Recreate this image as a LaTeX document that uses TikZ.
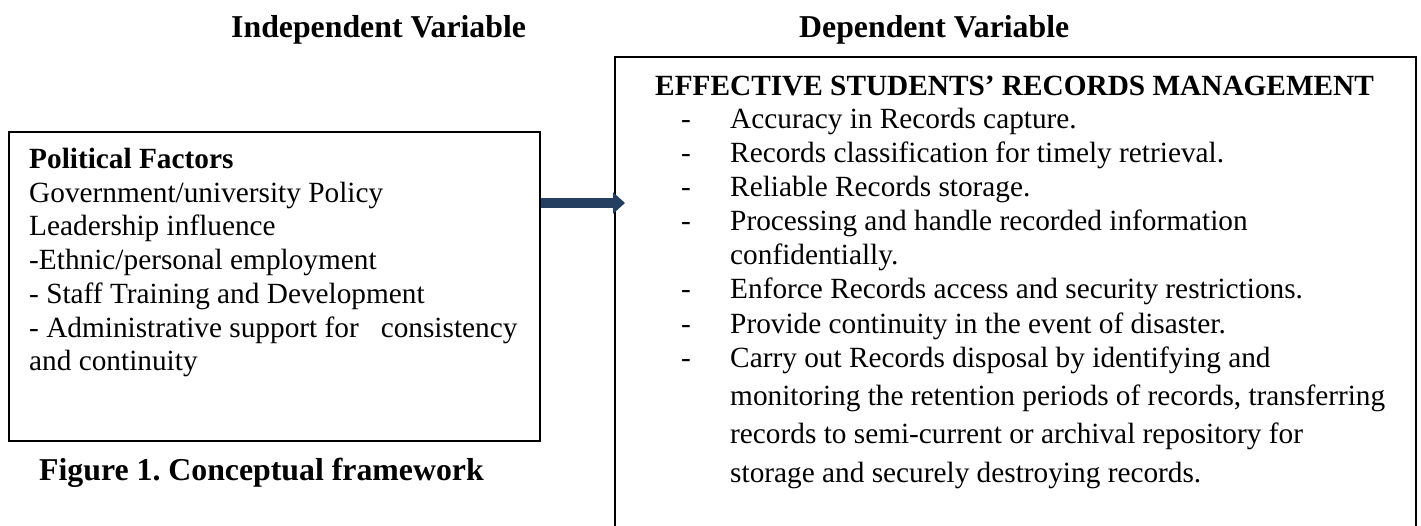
\documentclass[tikz,border=0pt]{standalone}
\usepackage{fontspec}
\setmainfont{Liberation Serif}
\usetikzlibrary{arrows.meta}
\definecolor{arrownavy}{RGB}{36,63,96}
\frenchspacing
\begin{document}
\begin{tikzpicture}[x=1pt,y=-1pt,
  txt/.style={inner sep=0pt, anchor=base west, font=\fontsize{29.3}{34}\selectfont},
  txtb/.style={inner sep=0pt, anchor=base west, font=\fontsize{29.3}{34}\selectfont\bfseries},
  ttl/.style={inner sep=0pt, anchor=base west, font=\fontsize{31.8}{38}\selectfont\bfseries},
  frame/.style={draw=black, line width=2pt, inner sep=0pt, anchor=north west},
  flow/.style={draw=arrownavy, line width=10pt, -{Triangle[length=12pt,width=21pt]}}]
\useasboundingbox (0,0) rectangle (1421,525);
\clip (0,0) rectangle (1421,525);
% titles
\node[ttl] (tind) at (231,37) {Independent Variable};
\node[ttl] (tdep) at (799,37) {Dependent Variable};
% frames
\node[frame, minimum width=531pt, minimum height=309pt] (lbox) at (8,131) {};
\node[frame, minimum width=801pt, minimum height=520pt] (rbox) at (614,56) {};
% left text
\node[txtb] (l1) at (29,168) {Political Factors};
\node[txt] (l2) at (29,202) {Government/university Policy};
\node[txt] (l3) at (29,235) {Leadership influence};
\node[txt] (l4) at (29,269) {-Ethnic/personal employment};
\node[txt] (l5) at (29,303) {- Staff Training and Development};
\node[txt] (l6) at (29,337) {- Administrative support for\ \ \ consistency};
\node[txt] (l7) at (29,370) {and continuity};
% caption
\node[ttl] (cap) at (39,480) {Figure 1. Conceptual framework};
% right text
\node[txtb] (rh) at (655,95) {EFFECTIVE STUDENTS’ RECORDS MANAGEMENT};
\node[txt] (d1) at (681,128) {-};
\node[txt] (r1) at (730,128) {Accuracy in Records capture.};
\node[txt] (d2) at (681,162) {-};
\node[txt] (r2) at (730,162) {Records classification for timely retrieval.};
\node[txt] (d3) at (681,196) {-};
\node[txt] (r3) at (730,196) {Reliable Records storage.};
\node[txt] (d4) at (681,230) {-};
\node[txt] (r4) at (730,230) {Processing and handle recorded information};
\node[txt] (r4b) at (730,264) {confidentially.};
\node[txt] (d5) at (681,298) {-};
\node[txt] (r5) at (730,298) {Enforce Records access and security restrictions.};
\node[txt] (d6) at (681,333) {-};
\node[txt] (r6) at (730,333) {Provide continuity in the event of disaster.};
\node[txt] (d7) at (681,367) {-};
\node[txt] (r7) at (730,367) {Carry out Records disposal by identifying and};
\node[txt] (r7b) at (730,405) {monitoring the retention periods of records, transferring};
\node[txt] (r7c) at (730,443) {records to semi-current or archival repository for};
\node[txt] (r7d) at (730,482) {storage and securely destroying records.};
% arrow
\coordinate (tip) at (625,203);
\draw[flow] (lbox.east |- tip) -- (tip);
\end{tikzpicture}
\end{document}
